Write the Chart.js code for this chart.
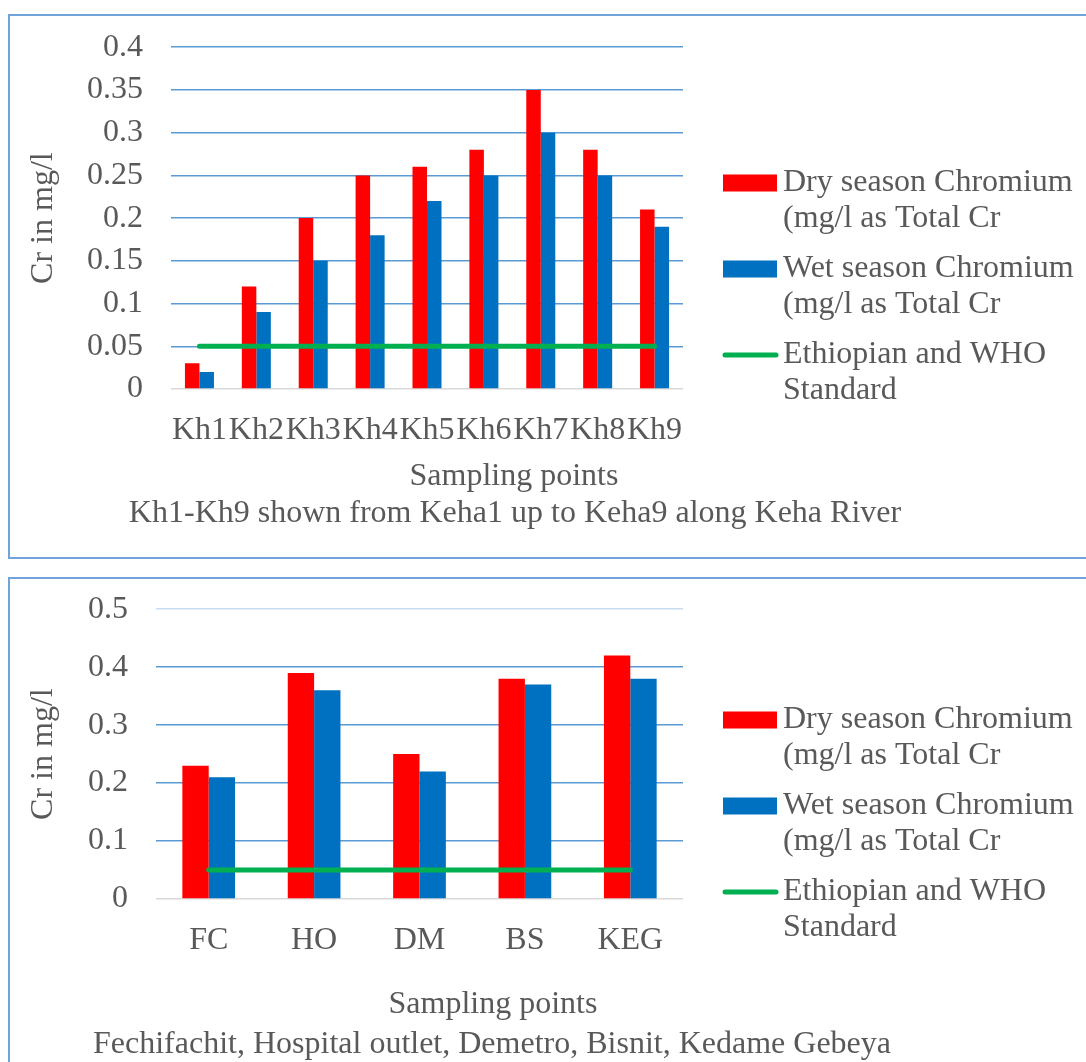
<!DOCTYPE html>
<html>
<head>
<meta charset="utf-8">
<title>Chromium along Keha River</title>
<script src="https://cdn.jsdelivr.net/npm/chart.js@4.4.1/dist/chart.umd.min.js"></script>
<style>
  body { margin: 0; background: #fff; width: 1086px; height: 1062px; overflow: hidden; position: relative; }
  .box { position: absolute; left: 8px; width: 1100px; border: 2px solid #6fa3d9; box-sizing: border-box; }
  #boxTop { top: 14px; height: 545px; }
  #boxBottom { top: 577px; height: 600px; }
  canvas { position: absolute; left: 0; }
  #kehaChart { top: 0; }
  #siteChart { top: 562px; }
</style>
</head>
<body>
<div class="box" id="boxTop"></div>
<div class="box" id="boxBottom"></div>
<canvas id="kehaChart" width="1086" height="560"></canvas>
<canvas id="siteChart" width="1086" height="500"></canvas>
<script>
// Keha River points (mg/l)
const kehaPoints = ['Kh1', 'Kh2', 'Kh3', 'Kh4', 'Kh5', 'Kh6', 'Kh7', 'Kh8', 'Kh9'];
const kehaDry = [0.03, 0.12, 0.20, 0.25, 0.26, 0.28, 0.35, 0.28, 0.21];
const kehaWet = [0.02, 0.09, 0.15, 0.18, 0.22, 0.25, 0.30, 0.25, 0.19];
const kehaTicks = ['0', '0.05', '0.1', '0.15', '0.2', '0.25', '0.3', '0.35', '0.4'];

// Town sites (mg/l)
const sitePoints = ['FC', 'HO', 'DM', 'BS', 'KEG'];
const siteDry = [0.23, 0.39, 0.25, 0.38, 0.42];
const siteWet = [0.21, 0.36, 0.22, 0.37, 0.38];
const siteTicks = ['0', '0.1', '0.2', '0.3', '0.4', '0.5'];

// Ethiopian / WHO limit for total chromium
const standardLimit = 0.05;

const dryLabel = 'Dry season Chromium\n(mg/l as Total Cr';
const wetLabel = 'Wet season Chromium\n(mg/l as Total Cr';
const standardLabel = 'Ethiopian and WHO\nStandard';
const yAxisTitle = 'Cr in mg/l';
const xAxisTitle = 'Sampling points';
const kehaNote = 'Kh1-Kh9 shown from Keha1 up to Keha9 along Keha River';
const siteNote = 'Fechifachit, Hospital outlet, Demetro, Bisnit, Kedame Gebeya';

const FONT = "'Liberation Serif', 'Times New Roman', serif";
const FONT_SIZE = 32;
const TEXT = '#595959';

Chart.defaults.font.family = FONT;
Chart.defaults.font.size = FONT_SIZE;
Chart.defaults.color = TEXT;

// legend on the right plus the two caption lines under the x axis
const chartNotes = {
  id: 'chartNotes',
  afterDraw(chart, args, opts) {
    const ctx = chart.ctx;
    ctx.save();
    ctx.font = FONT_SIZE + 'px ' + FONT;
    ctx.fillStyle = TEXT;
    ctx.textBaseline = 'middle';

    ctx.textAlign = 'left';
    chart.data.datasets.forEach((ds, i) => {
      const y = opts.legendTop + i * opts.legendGap;
      if (ds.type === 'line') {
        ctx.strokeStyle = ds.borderColor;
        ctx.lineWidth = 5;
        ctx.lineCap = 'round';
        ctx.beginPath();
        ctx.moveTo(opts.legendX + 2, y);
        ctx.lineTo(opts.legendX + 53, y);
        ctx.stroke();
      } else {
        ctx.fillStyle = ds.backgroundColor;
        ctx.fillRect(opts.legendX, y - 8.5, 54, 17);
      }
      ctx.fillStyle = TEXT;
      ds.label.split('\n').forEach((line, j) => {
        ctx.fillText(line, opts.legendX + 60, y + j * 36);
      });
    });

    ctx.textAlign = 'center';
    opts.captions.forEach(c => ctx.fillText(c.text, c.x, c.y));
    ctx.restore();
  }
};

function gridColour(faintTop) {
  return ctx => {
    if (ctx.tick.value === 0) return '#d9d9d9';
    if (faintTop && ctx.index === ctx.scale.ticks.length - 1) return '#cadcf0';
    return '#5b9bd5';
  };
}

function buildChart(canvasId, cfg) {
  const height = document.getElementById(canvasId).height;
  return new Chart(document.getElementById(canvasId), {
    data: {
      labels: cfg.labels,
      datasets: [
        { type: 'bar', label: dryLabel, data: cfg.dry, backgroundColor: '#ff0000', order: 1,
          categoryPercentage: cfg.groupWidth, barPercentage: 1 },
        { type: 'bar', label: wetLabel, data: cfg.wet, backgroundColor: '#0070c0', order: 1,
          categoryPercentage: cfg.groupWidth, barPercentage: 1 },
        { type: 'line', label: standardLabel, data: cfg.labels.map(() => standardLimit),
          borderColor: '#00b050', borderWidth: 5, borderCapStyle: 'round', pointRadius: 0, fill: false, order: 0 }
      ]
    },
    options: {
      responsive: false,
      animation: false,
      events: [],
      layout: { padding: { top: 46, right: 403, bottom: 0, left: 0 } },
      plugins: {
        legend: { display: false },
        tooltip: { enabled: false },
        chartNotes: {
          legendX: 723,
          legendTop: cfg.legendTop,
          legendGap: 86,
          captions: cfg.captions
        }
      },
      scales: {
        x: {
          grid: { display: false },
          border: { display: false },
          ticks: { padding: 14, maxRotation: 0, autoSkip: false },
          afterFit: s => { s.height = height - cfg.plotBottom; }
        },
        y: {
          min: 0,
          max: cfg.max,
          ticks: { stepSize: cfg.step, padding: 28, callback: (v, i) => cfg.ticks[i] },
          grid: { color: gridColour(cfg.faintTop), lineWidth: 1.5, drawTicks: false },
          border: { display: false },
          title: { display: true, text: yAxisTitle, padding: { top: 24, bottom: 0 } },
          afterFit: s => { s.width = cfg.plotLeft; }
        }
      }
    },
    plugins: [chartNotes]
  });
}

buildChart('kehaChart', {
  labels: kehaPoints, dry: kehaDry, wet: kehaWet, ticks: kehaTicks,
  max: 0.4, step: 0.05, plotLeft: 171, plotBottom: 389, groupWidth: 0.51,
  faintTop: false, legendTop: 183,
  captions: [
    { text: xAxisTitle, x: 514, y: 477 },
    { text: kehaNote, x: 515, y: 514 }
  ]
});

buildChart('siteChart', {
  labels: sitePoints, dry: siteDry, wet: siteWet, ticks: siteTicks,
  max: 0.5, step: 0.1, plotLeft: 156, plotBottom: 337, groupWidth: 0.5,
  faintTop: true, legendTop: 158,
  captions: [
    { text: xAxisTitle, x: 493, y: 443 },
    { text: siteNote, x: 492, y: 483 }
  ]
});
</script>
</body>
</html>
